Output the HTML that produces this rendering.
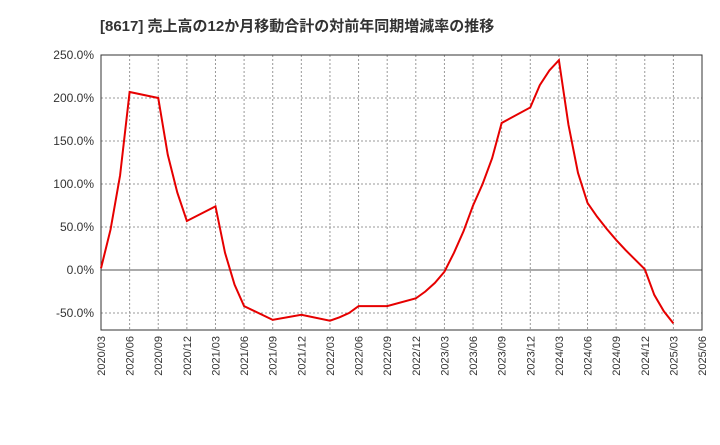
<!DOCTYPE html>
<html><head><meta charset="utf-8"><style>
body{margin:0;background:#fff;font-family:"Liberation Sans","Noto Sans CJK JP",sans-serif;}
</style></head><body>
<svg width="720" height="440" xmlns="http://www.w3.org/2000/svg">
<text x="100" y="31" font-size="15" font-weight="bold" fill="#333" font-family="Liberation Sans, Noto Sans CJK JP, sans-serif">[8617]  売上高の12か月移動合計の対前年同期増減率の推移</text>
<g id="grid"></g><g id="axes"></g><g id="series"></g>
</svg>
<script>
const months=[0,1,2,3,6,7,8,9,12,13,14,15,18,21,24,25,26,27,30,33,34,35,36,37,38,39,40,41,42,45,46,47,48,49,50,51,52,53,54,55,56,57,58,59,60];
const values=[2,47,110,207,200,134,90,57,74,20,-17,-42,-58,-52,-59,-55,-50,-42,-42,-33,-25,-15,-2,20,45,75,100,130,171,189,215,232,244,169,113,78,62,48,35,23,12,1,-29,-48,-62];
const yTicks=[250,200,150,100,50,0,-50];
const xLabels=["2020/03","2020/06","2020/09","2020/12","2021/03","2021/06","2021/09","2021/12","2022/03","2022/06","2022/09","2022/12","2023/03","2023/06","2023/09","2023/12","2024/03","2024/06","2024/09","2024/12","2025/03","2025/06"];
const L=101,R=702,T=55,B=330;
const x=m=>L+(R-L)*m/63;
const y=v=>270-v*0.86;
const ns="http://www.w3.org/2000/svg";
function mk(t,a,p){const e=document.createElementNS(ns,t);for(const k in a)e.setAttribute(k,a[k]);p.appendChild(e);return e;}
const g=document.getElementById('grid'),ax=document.getElementById('axes'),s=document.getElementById('series');
yTicks.forEach(v=>{
const l=mk('line',{x1:L,x2:R,y1:y(v),y2:y(v),stroke:v===0?'#555':'#999','stroke-dasharray':v===0?'':'2,2','stroke-width':1},g);


const t=mk('text',{x:L-7,y:y(v)+4,'text-anchor':'end','font-size':12,fill:'#333'},ax);
t.textContent=v.toFixed(1)+'%';


});
xLabels.forEach((lab,i)=>{
const xx=x(i*3);
const l=mk('line',{x1:xx,x2:xx,y1:T,y2:B,stroke:'#999','stroke-dasharray':'2,2'},g);


const t=mk('text',{x:xx+4,y:B+6,'text-anchor':'end','font-size':11,fill:'#333',transform:`rotate(-90 ${xx+4} ${B+6})`},ax);
t.textContent=lab;


});
const fr=mk('rect',{x:L,y:T,width:R-L,height:B-T,fill:'none',stroke:'#333'},ax);


const pl=mk('polyline',{points:months.map((m,i)=>x(m)+','+y(values[i])).join(' '),fill:'none',stroke:'#e60000','stroke-width':2},s);


</script>
</body></html>
